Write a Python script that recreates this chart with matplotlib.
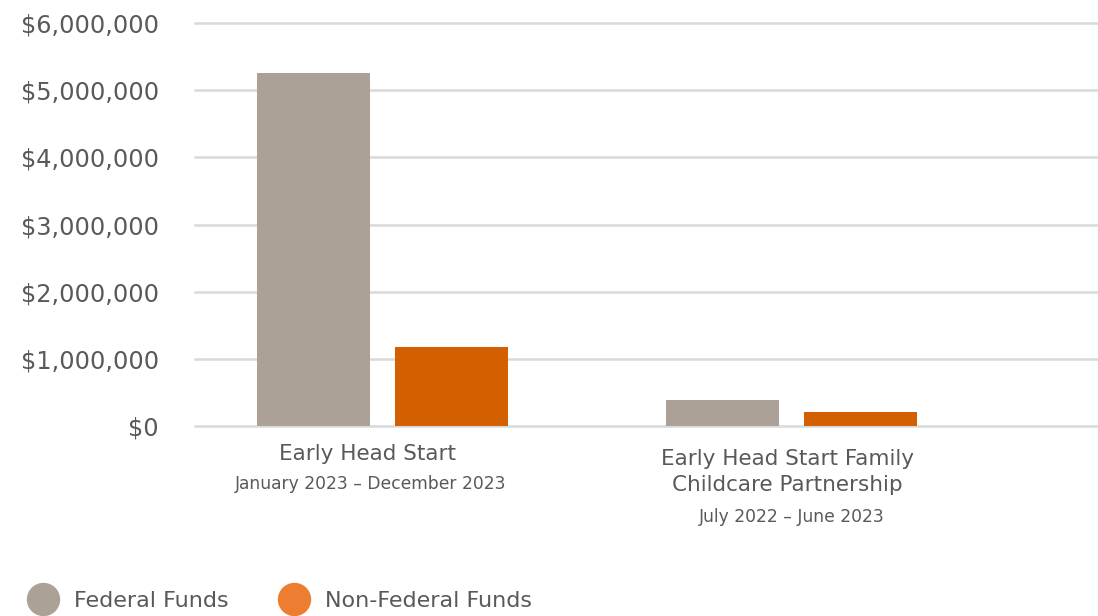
import matplotlib.pyplot as plt
from matplotlib.ticker import FuncFormatter
from matplotlib.lines import Line2D

plt.rcParams['font.family'] = ['DejaVu Sans']

# Data
programs = ['Early Head Start', 'Early Head Start Family\nChildcare Partnership']
periods = ['January 2023 – December 2023', 'July 2022 – June 2023']
federal = [5260000, 390000]
non_federal = [1180000, 210000]
series_names = ['Federal Funds', 'Non-Federal Funds']

fed_color = '#aba197'
nonfed_color = '#d45f00'
legend_orange = '#ed7d31'
text_color = '#595959'

fig = plt.figure(figsize=(10.98, 6.16), dpi=100)
ax = fig.add_axes([0.1776, 0.3084, 0.8224, 0.6543])

x = list(range(len(programs)))
w = 0.276
off = 0.169
ax.bar([i - off for i in x], federal, width=w, color=fed_color, zorder=3)
ax.bar([i + off for i in x], non_federal, width=w, color=nonfed_color, zorder=3)

ax.set_xlim(-0.458, 1.749)
ax.set_ylim(0, 6000000)
ax.set_yticks(range(0, 6000001, 1000000))
ax.yaxis.set_major_formatter(FuncFormatter(lambda v, p: '${:,.0f}'.format(v)))
ax.tick_params(axis='y', length=0, pad=26, labelsize=17.3, labelcolor=text_color)
ax.set_xticks([])
ax.grid(axis='y', color='#d9d9d9', linewidth=1.8, zorder=0)
ax.set_axisbelow(True)
for s in ax.spines.values():
    s.set_visible(False)
for gl in ax.get_ygridlines():
    gl.set_clip_on(False)

# category labels
ax.text(-0.037, -0.045, programs[0], transform=ax.get_xaxis_transform(), ha='center', va='top',
        fontsize=15.5, color=text_color)
ax.text(-0.028, -0.122, periods[0], transform=ax.get_xaxis_transform(), ha='center', va='top',
        fontsize=12.3, color=text_color)
ax.text(0.99, -0.057, programs[1], transform=ax.get_xaxis_transform(), ha='center', va='top',
        fontsize=15.5, color=text_color, linespacing=1.4)
ax.text(1.0, -0.203, periods[1], transform=ax.get_xaxis_transform(), ha='center', va='top',
        fontsize=12.3, color=text_color)

handles = [Line2D([], [], marker='o', linestyle='', markersize=23, color=fed_color),
           Line2D([], [], marker='o', linestyle='', markersize=23, color=legend_orange)]
leg = fig.legend(handles, series_names, loc='lower left', bbox_to_anchor=(0.001, -0.024), ncol=2,
                 frameon=False, fontsize=16, handletextpad=0.4, columnspacing=1.9,
                 labelcolor=text_color)

fig.savefig('out.png', dpi=100)
